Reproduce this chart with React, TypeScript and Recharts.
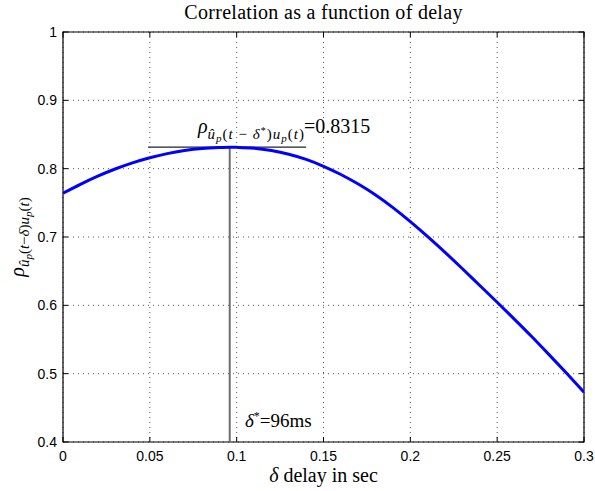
import React from "react";
import { LineChart, Line, XAxis, YAxis, CartesianGrid, ReferenceLine, ReferenceArea } from "recharts";

const delays = [0, 0.01, 0.02, 0.03, 0.04, 0.05, 0.06, 0.07, 0.08, 0.09, 0.096, 0.1, 0.11, 0.12, 0.13, 0.14, 0.15, 0.16, 0.17, 0.18, 0.19, 0.2, 0.21, 0.22, 0.23, 0.24, 0.25, 0.26, 0.27, 0.28, 0.29, 0.3];
const correlation = [0.764, 0.777, 0.789, 0.7995, 0.8085, 0.816, 0.822, 0.8265, 0.8295, 0.831, 0.8315, 0.8312, 0.830, 0.8265, 0.821, 0.8135, 0.8035, 0.7915, 0.7775, 0.7615, 0.743, 0.7225, 0.7005, 0.6775, 0.6535, 0.629, 0.6045, 0.5795, 0.554, 0.5275, 0.5005, 0.473];

const xTicks = [0, 0.05, 0.1, 0.15, 0.2, 0.25, 0.3];
const xTickLabels = ["0", "0.05", "0.1", "0.15", "0.2", "0.25", "0.3"];
const yTicks = [0.4, 0.5, 0.6, 0.7, 0.8, 0.9, 1];
const yTickLabels = ["0.4", "0.5", "0.6", "0.7", "0.8", "0.9", "1"];

const peakDelay = 0.096;
const peakValue = 0.8315;
const peakLineStart = 0.049;
const peakLineEnd = 0.14;

const data = delays.map((d, i) => ({ d, r: correlation[i] }));

const W = 595;
const H = 491;
const PLOT = { left: 63, right: 584, top: 32, bottom: 442 };
const TICK = 5;
const SERIF = "'Liberation Serif', 'Times New Roman', serif";
const SANS = "'Liberation Sans', Arial, Helvetica, sans-serif";

const XTick = (props: any) => {
  const { x, payload } = props;
  const idx = xTicks.indexOf(payload.value);
  const label = idx >= 0 ? xTickLabels[idx] : String(payload.value);
  return (
    <g>
      <line x1={x} x2={x} y1={PLOT.bottom} y2={PLOT.bottom - TICK} stroke="#000" strokeWidth={1} />
      <line x1={x} x2={x} y1={PLOT.top} y2={PLOT.top + TICK} stroke="#000" strokeWidth={1} />
      <text x={x} y={PLOT.bottom + 19} textAnchor="middle" fontFamily={SANS} fontSize={14} fill="#000">
        {label}
      </text>
    </g>
  );
};

const YTick = (props: any) => {
  const { y, payload } = props;
  const idx = yTicks.indexOf(payload.value);
  const label = idx >= 0 ? yTickLabels[idx] : String(payload.value);
  return (
    <g>
      <line x1={PLOT.left} x2={PLOT.left + TICK} y1={y} y2={y} stroke="#000" strokeWidth={1} />
      <line x1={PLOT.right} x2={PLOT.right - TICK} y1={y} y2={y} stroke="#000" strokeWidth={1} />
      <text x={PLOT.left - 6} y={y + 5} textAnchor="end" fontFamily={SANS} fontSize={14} fill="#000">
        {label}
      </text>
    </g>
  );
};

export default function App() {
  return (
    <div style={{ position: "absolute", left: 0, top: 0, width: W, height: H, background: "#fff" }}>
      <LineChart
        width={W}
        height={H}
        data={data}
        margin={{ top: PLOT.top, right: W - PLOT.right, bottom: 0, left: 0 }}
      >
        <CartesianGrid stroke="#555" strokeDasharray="1 4" strokeWidth={1} />
        <XAxis
          dataKey="d"
          type="number"
          domain={[0, 0.3]}
          ticks={xTicks}
          height={H - PLOT.bottom}
          tick={<XTick />}
          tickLine={false}
          axisLine={false}
          allowDataOverflow
        />
        <YAxis
          type="number"
          domain={[0.4, 1]}
          ticks={yTicks}
          width={PLOT.left}
          tick={<YTick />}
          tickLine={false}
          axisLine={false}
          allowDataOverflow
        />
        <ReferenceArea x1={0} x2={0.3} y1={0.4} y2={1} fill="none" stroke="#000" strokeWidth={1.2} fillOpacity={0} />
        <ReferenceLine
          segment={[{ x: peakDelay, y: 0.4 }, { x: peakDelay, y: peakValue }]}
          stroke="#6e6e6e"
          strokeWidth={2}
        />
        <ReferenceLine
          segment={[{ x: peakLineStart, y: peakValue }, { x: peakLineEnd, y: peakValue }]}
          stroke="#222"
          strokeWidth={1.2}
        />
        <Line
          type="natural"
          dataKey="r"
          stroke="#0000ff"
          strokeWidth={3}
          dot={false}
          isAnimationActive={false}
        />
      </LineChart>
      <svg
        width={W}
        height={H}
        style={{ position: "absolute", left: 0, top: 0, pointerEvents: "none" }}
      >
        <text x={(PLOT.left + PLOT.right) / 2} y={19} textAnchor="middle" fontFamily={SERIF} fontSize={20} letterSpacing={0.3} fill="#000">
          Correlation as a function of delay
        </text>
        <text x={(PLOT.left + PLOT.right) / 2} y={482} textAnchor="middle" fontFamily={SERIF} fontSize={20} fill="#000">
          <tspan fontStyle="italic">δ</tspan>
          <tspan> delay in sec</tspan>
        </text>
        <text
          transform={`translate(24, ${(PLOT.top + PLOT.bottom) / 2}) rotate(-90)`}
          textAnchor="middle"
          fontFamily={SERIF}
          fill="#000"
        >
          <tspan fontSize={20} fontStyle="italic">ρ</tspan>
          <tspan fontSize={15} fontStyle="italic" dy={5}>û</tspan>
          <tspan fontSize={11} fontStyle="italic" dy={3}>p</tspan>
          <tspan fontSize={15} dy={-3}>(</tspan>
          <tspan fontSize={15} fontStyle="italic">t</tspan>
          <tspan fontSize={15}>−</tspan>
          <tspan fontSize={15} fontStyle="italic">δ</tspan>
          <tspan fontSize={15}>)</tspan>
          <tspan fontSize={15} fontStyle="italic">u</tspan>
          <tspan fontSize={11} fontStyle="italic" dy={3}>p</tspan>
          <tspan fontSize={15} dy={-3}>(</tspan>
          <tspan fontSize={15} fontStyle="italic">t</tspan>
          <tspan fontSize={15}>)</tspan>
        </text>
        <text x={198} y={133} fontFamily={SERIF} fill="#000">
          <tspan fontSize={20} fontStyle="italic">ρ</tspan>
          <tspan fontSize={15} letterSpacing={1} fontStyle="italic" dy={6}>û</tspan>
          <tspan fontSize={11} letterSpacing={1} fontStyle="italic" dy={3}>p</tspan>
          <tspan fontSize={15} letterSpacing={1} dy={-3}>(</tspan>
          <tspan fontSize={15} letterSpacing={1} fontStyle="italic">t</tspan>
          <tspan fontSize={15} letterSpacing={1}> − </tspan>
          <tspan fontSize={15} letterSpacing={1} fontStyle="italic">δ</tspan>
          <tspan fontSize={10} letterSpacing={1} dy={-5}>*</tspan>
          <tspan fontSize={15} letterSpacing={1} dy={5}>)</tspan>
          <tspan fontSize={15} letterSpacing={1} fontStyle="italic">u</tspan>
          <tspan fontSize={11} letterSpacing={1} fontStyle="italic" dy={3}>p</tspan>
          <tspan fontSize={15} letterSpacing={1} dy={-3}>(</tspan>
          <tspan fontSize={15} letterSpacing={1} fontStyle="italic">t</tspan>
          <tspan fontSize={15}>)</tspan>
          <tspan fontSize={20} dy={-6}>=0.8315</tspan>
        </text>
        <text x={245} y={427} fontFamily={SERIF} fill="#000">
          <tspan fontSize={19} fontStyle="italic">δ</tspan>
          <tspan fontSize={12} dy={-7}>*</tspan>
          <tspan fontSize={19} dy={7}>=96ms</tspan>
        </text>
      </svg>
    </div>
  );
}
